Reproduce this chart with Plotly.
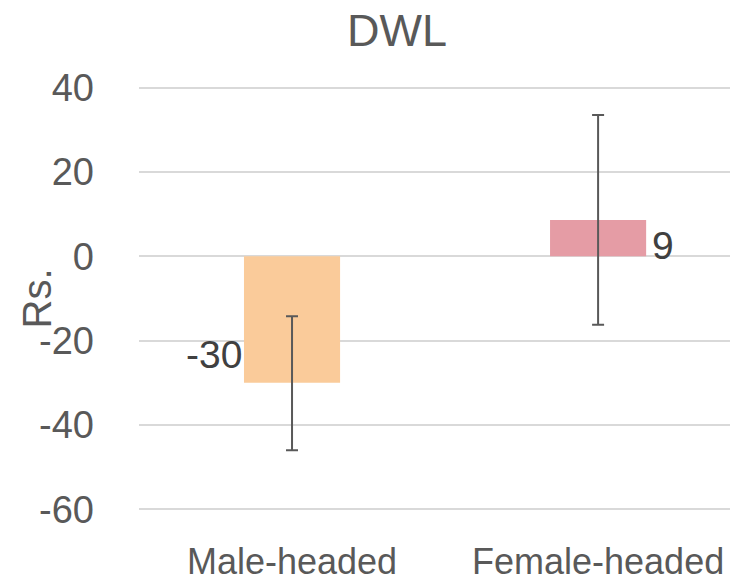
import plotly.graph_objects as go

categories = ["Male-headed", "Female-headed"]
values = [-30.0, 8.6]
labels = ["-30", "9"]
err_plus = [15.8, 24.9]
err_minus = [16.0, 24.8]
colors = ["#FACB9A", "#E59CA5"]
y_ticks = [-60, -40, -20, 0, 20, 40]
y_ticktext = ["-60", "-40", "-20", "0", "20", "40"]

FONT = "Liberation Sans Narrow, Arial Narrow, Liberation Sans, Arial, sans-serif"
TXT = "#595959"

L, T, B = 139, 86, 76
W, H = 730, 587
plot_w = W - L

fig = go.Figure()
fig.add_trace(go.Bar(
    x=categories, y=values, width=0.314,
    marker=dict(color=colors, line=dict(width=0)),
    error_y=dict(type="data", symmetric=False, array=err_plus, arrayminus=err_minus,
                 color="#595959", thickness=2, width=6),
    hoverinfo="skip",
))

# data labels
fig.add_annotation(x=categories[0], y=values[0], text=labels[0], xref="x", yref="y",
                   xanchor="right", yanchor="middle", xshift=-48, yshift=28,
                   showarrow=False, font=dict(family=FONT, size=39, color="#404040"))
fig.add_annotation(x=categories[1], y=values[1], text=labels[1], xref="x", yref="y",
                   xanchor="left", yanchor="middle", xshift=52, yshift=-25,
                   showarrow=False, font=dict(family=FONT, size=39, color="#404040"))

# y-axis title
fig.add_annotation(x=(36 - L) / plot_w, y=0.5, xref="paper", yref="paper",
                   text="Rs.", textangle=-90, showarrow=False,
                   xanchor="center", yanchor="middle",
                   font=dict(family=FONT, size=40, color=TXT))

fig.update_layout(
    width=W, height=H,
    margin=dict(l=L, r=0, t=T, b=B, pad=0),
    paper_bgcolor="white", plot_bgcolor="white",
    showlegend=False,
    font=dict(family=FONT, color=TXT, size=38),
    title=dict(text="DWL", x=397 / W, xanchor="center", xref="container",
               y=1 - 30 / H, yanchor="middle", yref="container",
               font=dict(family=FONT, size=45, color=TXT)),
    xaxis=dict(range=[-0.5, 1.431], showgrid=False, showline=False, zeroline=False,
               ticks="", tickangle=0, automargin=False, ticklabelstandoff=26,
               tickfont=dict(family=FONT, size=36, color=TXT)),
    yaxis=dict(range=[-60.4, 40.4], tickvals=y_ticks, ticktext=y_ticktext,
               showgrid=True, gridcolor="#D9D9D9",
               gridwidth=1.5, zeroline=True, zerolinecolor="#D9D9D9", zerolinewidth=1.5,
               showline=False, ticks="", ticklabelstandoff=44, automargin=False,
               tickfont=dict(family=FONT, size=38, color=TXT)),
)

fig.write_html("out.html", config={"displayModeBar": False},
               post_script="document.body.style.margin='0px';")
